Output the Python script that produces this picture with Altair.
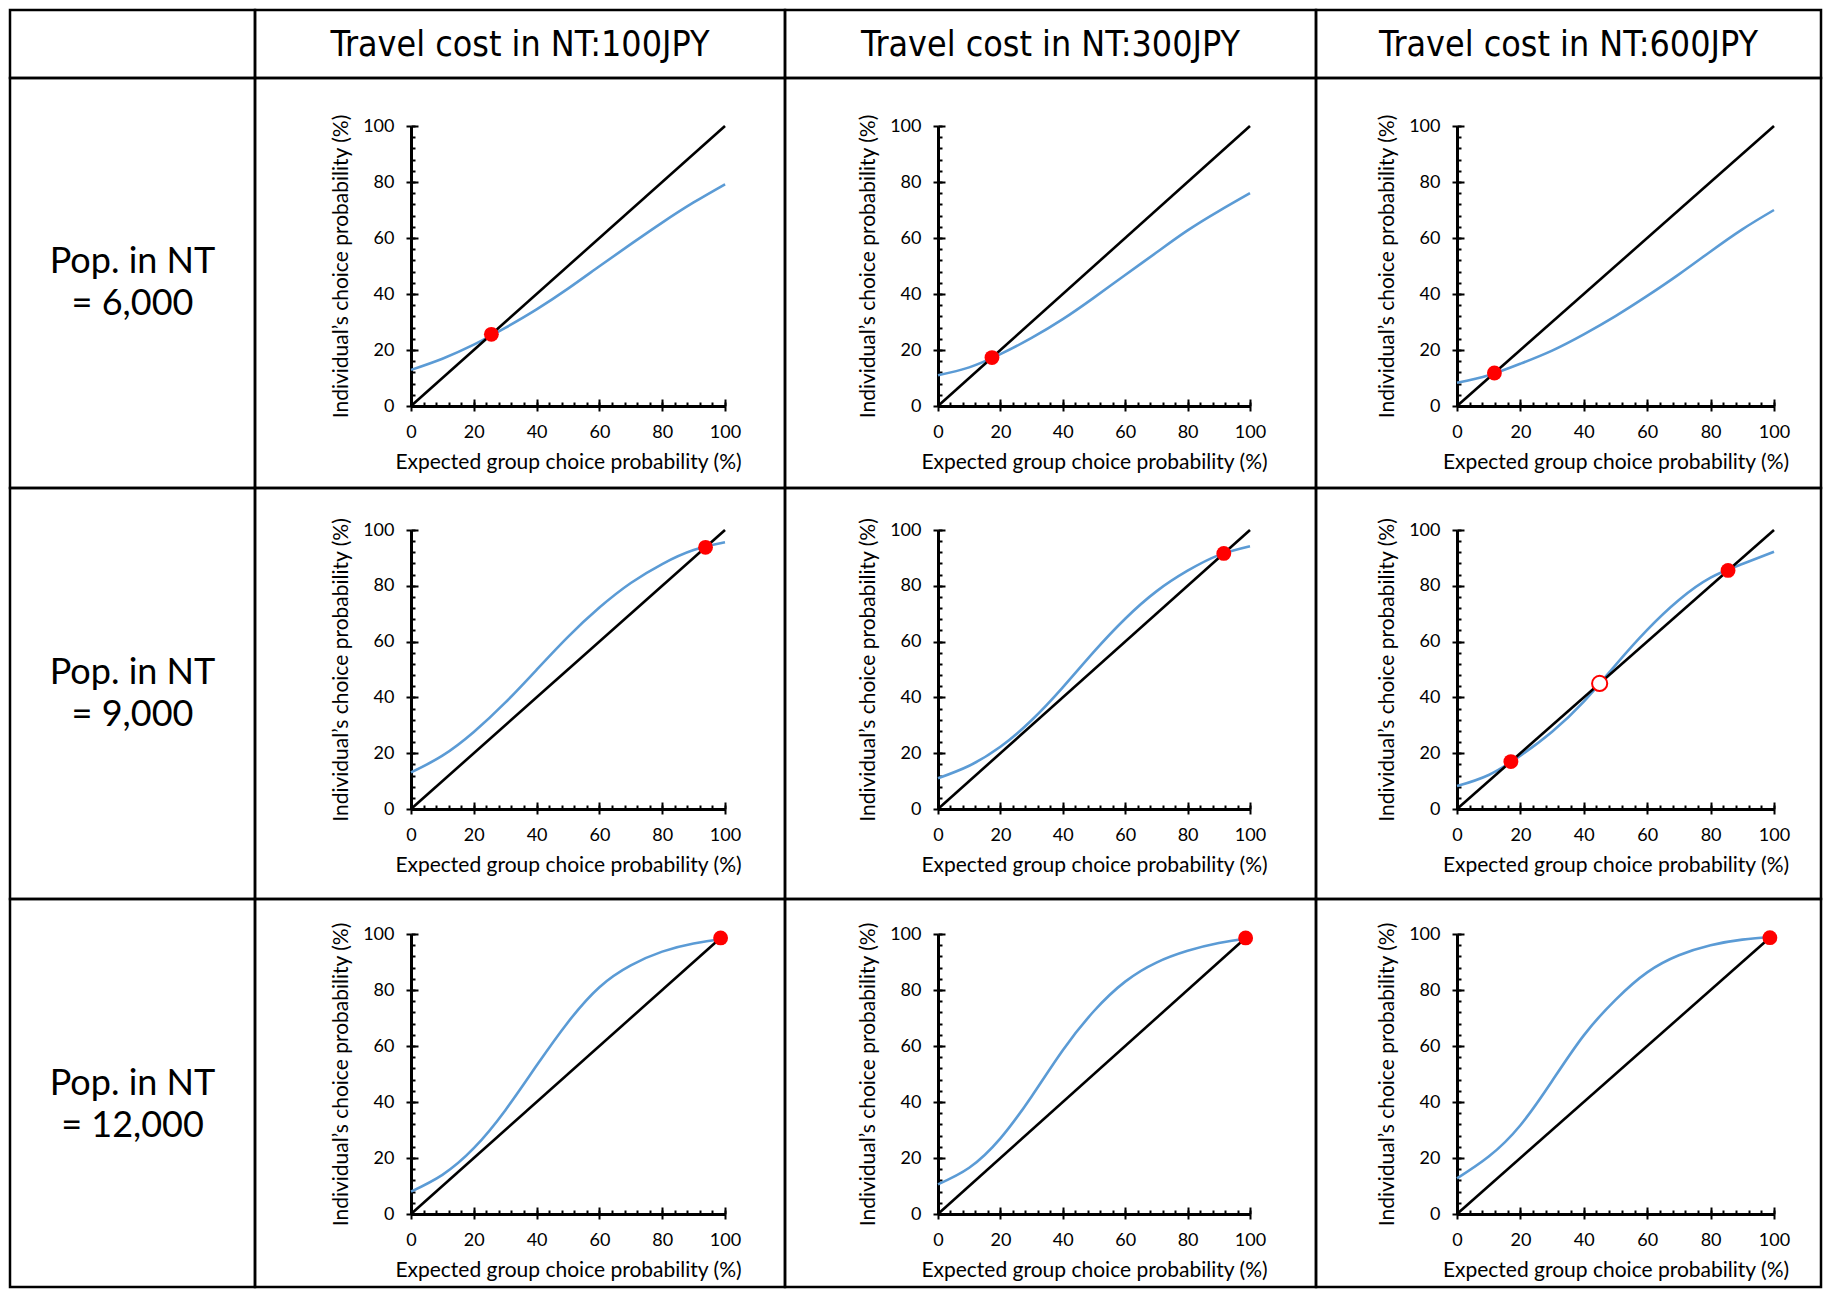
import altair as alt
import pandas as pd

# ---------------- data ----------------
col_titles = ["Travel cost in NT:100JPY", "Travel cost in NT:300JPY", "Travel cost in NT:600JPY"]
row_titles = ["Pop. in NT\n= 6,000", "Pop. in NT\n= 9,000", "Pop. in NT\n= 12,000"]

x_title = "Expected group choice probability (%)"
y_title = "Individual\u2019s choice probability (%)"

x_grid = [0, 10, 20, 30, 40, 50, 60, 70, 80, 90, 100]
diag = [0, 100]

blue_r1c1 = [12.9, 16.9, 21.9, 27.9, 34.5, 41.9, 49.9, 57.8, 65.5, 72.7, 79.2]
blue_r1c2 = [11.0, 13.8, 18.5, 24.3, 31.0, 38.7, 46.8, 54.8, 62.7, 69.6, 76.0]
blue_r1c3 = [8.3, 11.0, 15.1, 19.8, 25.6, 32.1, 39.3, 47.0, 55.2, 63.1, 70.0]
blue_r2c1 = [13.1, 19.1, 27.6, 38.1, 49.9, 61.7, 72.2, 81.0, 87.8, 92.8, 95.6]
blue_r2c2 = [11.0, 15.5, 22.3, 31.8, 43.6, 56.4, 68.2, 78.0, 85.4, 91.0, 94.2]
blue_r2c3 = [8.2, 12.2, 19.1, 27.7, 38.5, 51.6, 64.2, 74.9, 82.9, 87.8, 92.2]
blue_r3c1 = [8.0, 14.0, 23.5, 37.0, 53.0, 68.5, 81.0, 88.8, 93.7, 96.6, 98.3]
blue_r3c2 = [10.6, 16.5, 27.0, 42.0, 58.5, 72.5, 83.0, 89.8, 94.0, 96.8, 98.5]
blue_r3c3 = [12.7, 20.5, 31.7, 47.5, 63.8, 76.5, 86.3, 92.4, 96.0, 98.0, 99.0]

stable_r1c1 = [25.6]
stable_r1c2 = [17.3]
stable_r1c3 = [11.8]
stable_r2c1 = [93.8]
stable_r2c2 = [91.6]
stable_r2c3 = [17.0, 85.5]
stable_r3c1 = [98.6]
stable_r3c2 = [98.6]
stable_r3c3 = [98.7]

unstable_r2c3 = [45.0]

major_ticks = [0, 20, 40, 60, 80, 100]
minor_ticks = list(range(0, 101, 4))

# ---------------- layout / style ----------------
COL_W = [245, 530, 531, 505]
ROW_H = [68, 410, 411, 388]
PX0 = [156, 153, 141]
PX1 = [470, 465, 458]
PY100 = [48, 42, 35]
PY0 = [328, 321, 315]

AX_FONT = "Lato"
HEAD_FONT = "'Liberation Sans Narrow', 'DejaVu Sans Condensed', Lato, sans-serif"
ROW_FONT = "Lato"
BLUE = "#5B9BD5"
RED = "#FF0000"


def panel(r, c, blue, stable, unstable):
    W, H = COL_W[c + 1], ROW_H[r + 1]
    xs = alt.Scale(domain=[0, 100], range=[PX0[c], PX1[c]], nice=False, zero=False)
    ys = alt.Scale(domain=[0, 100], range=[PY0[r], PY100[r]], nice=False, zero=False)

    common = dict(
        grid=False, labelFont=AX_FONT, labelFontSize=18, labelColor="black",
        titleFont=AX_FONT, titleFontSize=21, titleFontWeight="normal", titleColor="black",
        domainColor="black", domainWidth=3, tickColor="black", tickWidth=2,
        labelFlush=False, labelOverlap=False,
    )
    major_x = alt.Axis(orient="bottom", offset=PY0[r] - H, values=major_ticks, tickSize=5,
                       labelPadding=12, title=x_title, titlePadding=10, **common)
    major_y = alt.Axis(orient="left", offset=-PX0[c], values=major_ticks, tickSize=5,
                       labelPadding=12, title=y_title, titlePadding=11, minExtent=0, **common)
    inner_common = dict(grid=False, domain=False, labels=False, tickColor="black",
                        tickWidth=2, title=None)
    minor_x = alt.Axis(orient="top", offset=-PY0[r], values=minor_ticks, tickSize=4, **inner_common)
    minor_y = alt.Axis(orient="right", offset=PX0[c] - W, values=minor_ticks, tickSize=4, **inner_common)
    majin_x = alt.Axis(orient="top", offset=-PY0[r], values=major_ticks, tickSize=7, **inner_common)
    majin_y = alt.Axis(orient="right", offset=PX0[c] - W, values=major_ticks, tickSize=7, **inner_common)

    curve_df = pd.DataFrame({"x": x_grid, "y": blue})
    diag_df = pd.DataFrame({"x": diag, "y": diag})
    st_df = pd.DataFrame({"x": stable, "y": stable})

    blue_layer = alt.Chart(curve_df).mark_line(
        color=BLUE, strokeWidth=2.6, interpolate="natural"
    ).encode(
        x=alt.X("x:Q", scale=xs, axis=minor_x),
        y=alt.Y("y:Q", scale=ys, axis=minor_y),
    )
    diag_layer = alt.Chart(diag_df).mark_line(color="black", strokeWidth=2.6).encode(
        x=alt.X("x:Q", scale=xs, axis=major_x),
        y=alt.Y("y:Q", scale=ys, axis=major_y),
    )
    st_layer = alt.Chart(st_df).mark_circle(color=RED, opacity=1, size=220).encode(
        x=alt.X("x:Q", scale=xs, axis=majin_x),
        y=alt.Y("y:Q", scale=ys, axis=majin_y),
    )
    layers = [blue_layer, diag_layer, st_layer]
    if unstable:
        un_df = pd.DataFrame({"x": unstable, "y": unstable})
        layers.append(
            alt.Chart(un_df).mark_point(
                shape="circle", filled=True, fill="white", stroke=RED,
                strokeWidth=2, opacity=1, size=230
            ).encode(
                x=alt.X("x:Q", scale=xs, axis=None),
                y=alt.Y("y:Q", scale=ys, axis=None),
            )
        )
    return alt.layer(*layers).resolve_axis(x="independent", y="independent").properties(
        width=W, height=H
    )


def text_cell(txt, W, H, font, size, dy=0, line_height=None):
    df = pd.DataFrame({"t": [txt]})
    kw = dict(font=font, fontSize=size, align="center", baseline="middle", color="black",
              lineBreak="\n")
    if line_height is not None:
        kw["lineHeight"] = line_height
    return alt.Chart(df).mark_text(**kw).encode(
        text="t:N", x=alt.value(W / 2), y=alt.value(H / 2 + dy)
    ).properties(width=W, height=H)


curves = [[blue_r1c1, blue_r1c2, blue_r1c3],
          [blue_r2c1, blue_r2c2, blue_r2c3],
          [blue_r3c1, blue_r3c2, blue_r3c3]]
stables = [[stable_r1c1, stable_r1c2, stable_r1c3],
           [stable_r2c1, stable_r2c2, stable_r2c3],
           [stable_r3c1, stable_r3c2, stable_r3c3]]
unstables = [[[], [], []], [[], [], unstable_r2c3], [[], [], []]]

cells = [text_cell("", COL_W[0], ROW_H[0], HEAD_FONT, 35.5)]
cells += [text_cell(col_titles[i], COL_W[i + 1], ROW_H[0], HEAD_FONT, 35.5, dy=1) for i in range(3)]
for r in range(3):
    row_h = ROW_H[r + 1] if r < 2 else ROW_H[2]
    cells.append(text_cell(row_titles[r], COL_W[0], ROW_H[r + 1], ROW_FONT, 36,
                           dy=(row_h - ROW_H[r + 1]) / 2 - 21, line_height=42))
    for c in range(3):
        cells.append(panel(r, c, curves[r][c], stables[r][c], unstables[r][c]))

chart = alt.concat(*cells, columns=4, spacing=0, bounds="flush", align="each").properties(
    padding=0, background="white"
).configure_view(stroke="black", strokeWidth=2.5)

chart.save("out.html", embed_options={"renderer": "svg", "actions": False})
